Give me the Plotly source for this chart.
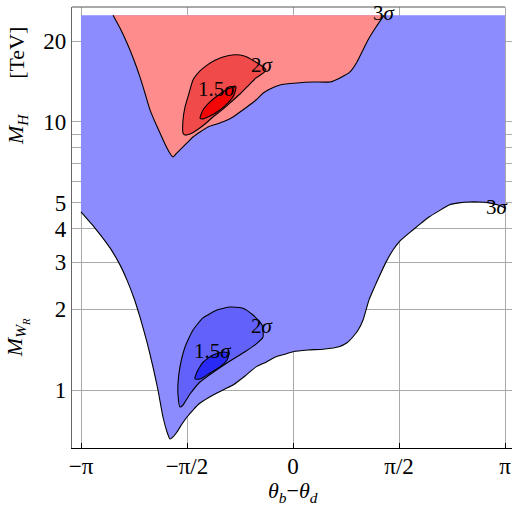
import numpy as np
import plotly.graph_objects as go

PI = np.pi
Y_TOP = 25.0

# tick positions and labels
X_TICKS = [-PI, -PI / 2, 0, PI / 2, PI]
X_TICKTEXT = ["\u2212\u03c0", "\u2212\u03c0/2", "0", "\u03c0/2", "\u03c0"]
Y_TICKS = [1, 2, 3, 4, 5, 10, 20]
Y_TICKTEXT = ["1", "2", "3", "4", "5", "10", "20"]
Y_MINOR = [6, 7, 8, 9]

# 3 sigma boundary of the M_WR region (lower curve)
BLUE3_X = [-3.142, -2.934, -2.712, -2.564, -2.460, -2.356, -2.267, -2.164, -2.075, -2.001,
           -1.927, -1.867, -1.823, -1.778, -1.719, -1.645, -1.571, -1.482, -1.378, -1.260,
           -1.126, -1.008, -0.889, -0.711, -0.548, -0.400, -0.252, -0.119, 0.0, 0.222,
           0.445, 0.682, 0.800, 0.889, 0.963, 1.037, 1.082, 1.126, 1.200, 1.274,
           1.378, 1.482, 1.586, 1.719, 1.867, 2.015, 2.164, 2.312, 2.460, 2.608,
           2.756, 2.905, 3.038, 3.142]
BLUE3_Y = [4.62, 4.02, 3.39, 2.93, 2.57, 2.20, 1.87, 1.51, 1.22, 1.00,
           0.793, 0.697, 0.656, 0.668, 0.697, 0.747, 0.793, 0.842, 0.894, 0.934,
           0.974, 1.009, 1.044, 1.128, 1.22, 1.27, 1.33, 1.36, 1.39, 1.41,
           1.42, 1.45, 1.50, 1.58, 1.67, 1.82, 1.99, 2.17, 2.40, 2.64,
           3.00, 3.33, 3.60, 3.85, 4.13, 4.42, 4.66, 4.90, 4.99, 5.03,
           5.03, 4.99, 4.90, 4.78]

BLUE2_X = [-1.675, -1.704, -1.704, -1.675, -1.600, -1.482, -1.334, -1.126, -0.934, -0.741,
           -0.593, -0.459, -0.445, -0.548, -0.711, -0.934, -1.156, -1.378, -1.526, -1.630, -1.675]
BLUE2_Y = [0.864, 0.958, 1.062, 1.22, 1.447, 1.674, 1.857, 1.988, 2.04, 2.02,
           1.905, 1.748, 1.577, 1.484, 1.39, 1.283, 1.177, 1.071, 0.966, 0.879, 0.864]

BLUE15_X = [-1.452, -1.423, -1.334, -1.186, -1.037, -0.948, -0.978, -1.082, -1.230, -1.378, -1.452]
BLUE15_Y = [1.099, 1.167, 1.27, 1.351, 1.386, 1.374, 1.294, 1.219, 1.157, 1.099, 1.099]

# 3 sigma boundary of the M_H region
RED3_X = [-2.667, -2.564, -2.460, -2.356, -2.267, -2.193, -2.119, -2.045, -1.971, -1.897,
          -1.852, -1.808, -1.778, -1.734, -1.660, -1.571, -1.482, -1.378, -1.260, -1.126,
          -1.008, -0.889, -0.785, -0.682, -0.548, -0.445, -0.341, -0.193, 0.059, 0.296,
          0.548, 0.696, 0.845, 0.948, 1.037, 1.111, 1.230, 1.348]
RED3_Y = [25.0, 22.4, 19.7, 17.0, 14.7, 12.8, 11.09, 10.0, 9.10, 8.28,
          7.86, 7.53, 7.40, 7.60, 7.93, 8.35, 8.79, 9.18, 9.58, 9.83,
          10.08, 10.44, 10.90, 11.38, 12.08, 12.8, 13.28, 13.75, 13.98, 14.10,
          14.10, 14.60, 15.37, 16.74, 18.57, 20.23, 22.62, 25.0]

RED2_X = [-1.630, -1.630, -1.600, -1.541, -1.482, -1.378, -1.274, -1.156, -1.037, -0.904,
          -0.785, -0.682, -0.578, -0.459, -0.400, -0.459, -0.548, -0.682, -0.785, -0.934,
          -1.052, -1.186, -1.304, -1.423, -1.526, -1.600, -1.630]
RED2_Y = [9.10, 10.17, 11.38, 12.8, 14.35, 15.5, 16.3, 17.0, 17.48, 17.78,
          17.78, 17.48, 16.89, 16.18, 15.64, 15.11, 14.60, 13.51, 12.72, 11.78,
          11.09, 10.44, 9.83, 9.34, 9.02, 8.94, 9.10]

RED15_X = [-1.378, -1.334, -1.230, -1.082, -0.934, -0.845, -0.874, -0.963, -1.082, -1.230, -1.349, -1.378]
RED15_Y = [10.35, 11.09, 11.88, 12.72, 13.39, 13.51, 12.61, 11.78, 11.09, 10.53, 10.26, 10.35]

# contour labels: (text, x, y)
LABELS = [
    ("3<i>\u03c3</i>", 1.363, 25.5),
    ("3<i>\u03c3</i>", 3.023, 4.82),
    ("2<i>\u03c3</i>", -0.459, 16.3),
    ("1.5<i>\u03c3</i>", -1.126, 13.3),
    ("2<i>\u03c3</i>", -0.459, 1.73),
    ("1.5<i>\u03c3</i>", -1.186, 1.40),
]

C_BLUE3, C_BLUE2, C_BLUE15 = "#8c8cff", "#6262fb", "#2a2af6"
C_RED3, C_RED2, C_RED15 = "#ff8c8c", "#f04a4a", "#f40606"
SERIF = "Liberation Serif, Times New Roman, serif"
GRID = "#aaaaaa"

fig = go.Figure()

# blue 3 sigma fill (above the lower curve up to the top of the scan)
fig.add_trace(go.Scatter(
    x=[BLUE3_X[0]] + BLUE3_X + [BLUE3_X[-1], BLUE3_X[0]],
    y=[Y_TOP] + BLUE3_Y + [Y_TOP, Y_TOP],
    mode="lines", fill="toself", fillcolor=C_BLUE3, line=dict(width=0),
    hoverinfo="skip", showlegend=False))
fig.add_trace(go.Scatter(x=BLUE3_X, y=BLUE3_Y, mode="lines",
                         line=dict(color="black", width=1.1, shape="spline", smoothing=0.4),
                         hoverinfo="skip", showlegend=False))

for xs, ys, col in [(RED3_X, RED3_Y, C_RED3), (RED2_X, RED2_Y, C_RED2), (RED15_X, RED15_Y, C_RED15),
                    (BLUE2_X, BLUE2_Y, C_BLUE2), (BLUE15_X, BLUE15_Y, C_BLUE15)]:
    fig.add_trace(go.Scatter(x=xs, y=ys, mode="lines", fill="toself", fillcolor=col,
                             line=dict(color="black", width=1.1, shape="spline", smoothing=0.5),
                             hoverinfo="skip", showlegend=False))

annotations = []
for txt, lx, ly in LABELS:
    annotations.append(dict(x=lx, y=np.log10(ly), xref="x", yref="y", text=txt, showarrow=False,
                            font=dict(family=SERIF, size=21, color="black")))

annotations += [
    dict(x=0.502, y=-0.10, xref="paper", yref="paper", showarrow=False,
         text="<i>\u03b8</i><sub><i>b</i></sub>\u2212<i>\u03b8</i><sub><i>d</i></sub>",
         font=dict(family=SERIF, size=22, color="black"), xanchor="center", yanchor="middle"),
    dict(x=-0.125, y=0.896, xref="paper", yref="paper", showarrow=False, text="[TeV]",
         textangle=-90, xanchor="center", yanchor="middle",
         font=dict(family=SERIF, size=22, color="black")),
    dict(x=-0.125, y=0.721, xref="paper", yref="paper", showarrow=False,
         text="<i>M</i><sub><i>H</i></sub>", xanchor="center", yanchor="middle",
         textangle=-90, font=dict(family=SERIF, size=22, color="black")),
    dict(x=-0.125, y=0.249, xref="paper", yref="paper", showarrow=False,
         text="<i>M</i><sub><i>W<sub>R</sub></i></sub>", xanchor="center", yanchor="middle",
         textangle=-90, font=dict(family=SERIF, size=22, color="black")),
]

fig.update_layout(
    width=512, height=505,
    margin=dict(l=72, r=0, t=7, b=57),
    paper_bgcolor="white", plot_bgcolor="white",
    annotations=annotations,
    shapes=[dict(type="line", xref="x", yref="paper", x0=-3.275, x1=PI, y0=1, y1=1,
                 line=dict(color="#555555", width=1))],
    xaxis=dict(range=[-3.275, 3.245], tickvals=X_TICKS, ticktext=X_TICKTEXT,
               showgrid=True, gridcolor=GRID, gridwidth=1, zeroline=False,
               showline=True, linecolor="black", linewidth=1.2, automargin=False,
               ticks="inside", ticklen=5, tickcolor="black", ticklabelstandoff=-3,
               tickfont=dict(family=SERIF, size=23, color="black")),
    yaxis=dict(type="log", range=[-0.2164, 1.429], tickvals=Y_TICKS, ticktext=Y_TICKTEXT,
               showgrid=True, gridcolor=GRID, gridwidth=1, zeroline=False,
               showline=True, linecolor="#666666", linewidth=1.2, automargin=False,
               ticks="", tickfont=dict(family=SERIF, size=23, color="black"),
               minor=dict(tickvals=Y_MINOR, showgrid=True, gridcolor=GRID, gridwidth=1, ticks="")),
)

fig.write_html("out.html", post_script="document.body.style.margin='0px';",
               config={"displayModeBar": False})
